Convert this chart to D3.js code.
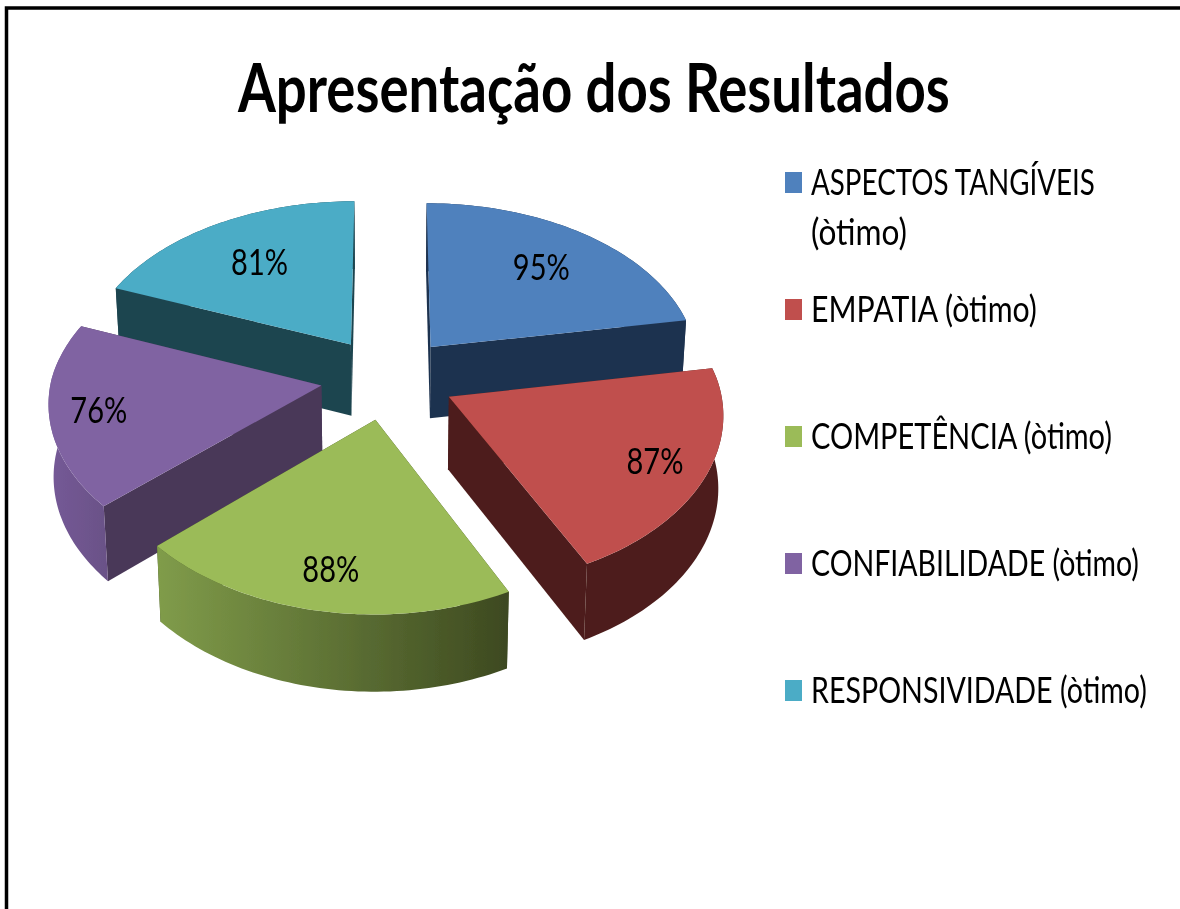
<!DOCTYPE html>
<html>
<head>
<meta charset="utf-8">
<script src="https://cdn.jsdelivr.net/npm/d3@7"></script>
<style>
html,body{margin:0;padding:0;background:#fff;overflow:hidden}
svg{display:block}
text{font-family:Lato,"Open Sans",sans-serif;fill:#000}
</style>
</head>
<body>
<svg id="c" width="1180" height="909"></svg>
<script>
// ---- data ----
const titleText = "Apresentação dos Resultados";
const categories = ["ASPECTOS TANGÍVEIS (òtimo)","EMPATIA (òtimo)","COMPETÊNCIA (òtimo)","CONFIABILIDADE (òtimo)","RESPONSIVIDADE (òtimo)"];
const values = [95,87,88,76,81];
const valueLabels = ["95%","87%","88%","76%","81%"];

// ---- style / layout ----
const topColors = ["#4f81bd","#c0504d","#9bbb59","#8064a2","#4bacc6"];
const cutColors = ["#1f334f","#4d1e1c","#3e4a20","#4a3859","#1f4550"];
const wallFrom  = ["#1f334f","#4d1e1c","#809c4a","#755a97","#1f4550"];
const wallTo    = ["#1f334f","#4d1e1c","#3d4920","#6a5187","#1f4550"];
const labelRadius = [.70,.81,.80,.82,.665];
const drawOrder = [4,0,3,1,2];
const explode = .25, persp = .105, perspXFront = .09, wallHeight = 72, shrink = .985;

const svg = d3.select("#c");
const defs = svg.append("defs");
const soft = defs.append("filter").attr("id","soft").attr("x","-5%").attr("y","-5%").attr("width","110%").attr("height","110%");
soft.append("feGaussianBlur").attr("stdDeviation",.45);

// border
svg.append("path").attr("d","M6.5,909V8H1180").attr("fill","none").attr("stroke","#000").attr("stroke-width",3.5);

// fitted text: height comes from the font size, width from a horizontal scale
function fitted(g,str,x,y,size,width,weight,anchor){
  const t = g.append("text").attr("font-size",size)
    .attr("font-weight",weight||400).attr("text-anchor",anchor||"start").text(str);
  const natural = t.node().getComputedTextLength();
  t.attr("transform",`translate(${x},${y}) scale(${width/natural},1)`);
  return t;
}

// projection
const xs = d3.scaleLinear().domain([0,1]).range([388,658]);
const ys = d3.scaleLinear().domain([0,1]).range([378,543]);
function project(X,Y,down){
  const s = 1/(1-persp*Y);
  const sx = 1/(1-(Y>0?perspXFront:persp)*Y);
  const px = X*sx, py = Y*s;
  if(!down) return [xs(px),ys(py)];
  return [xs(0)+(xs(px)-xs(0))*shrink, ys(py)+wallHeight*Math.sqrt(s)];
}
const pie = d3.pie().sort(null).value(d=>d);
const arcs = pie(values);
const line = d3.line();

const pieG = svg.append("g").attr("filter","url(#soft)");
drawOrder.forEach(i=>{
  const a = arcs[i], mid = (a.startAngle+a.endAngle)/2;
  const ox = explode*Math.sin(mid), oy = -explode*Math.cos(mid);
  const angles = d3.range(0,61).map(k=>a.startAngle+(a.endAngle-a.startAngle)*k/60);
  const rim = angles.map(t=>[ox+Math.sin(t),oy-Math.cos(t)]);
  const top = rim.map(p=>project(p[0],p[1],false));
  const bot = rim.map(p=>project(p[0],p[1],true));
  const apexT = project(ox,oy,false), apexB = project(ox,oy,true);
  const n = rim.length-1;
  const gid = "wall"+i;
  const gr = defs.append("linearGradient").attr("id",gid).attr("x1",0).attr("x2",1).attr("y1",0).attr("y2",0);
  gr.append("stop").attr("offset",0).attr("stop-color",wallFrom[i]);
  gr.append("stop").attr("offset",1).attr("stop-color",wallTo[i]);
  // cut faces
  pieG.append("path").attr("d",line([apexT,top[0],bot[0],apexB])+"Z").attr("fill",cutColors[i]);
  pieG.append("path").attr("d",line([apexT,top[n],bot[n],apexB])+"Z").attr("fill",cutColors[i]);
  // outer wall
  pieG.append("path").attr("d",line(top.concat(bot.slice().reverse()))+"Z").attr("fill",`url(#${gid})`);
  // top face
  pieG.append("path").attr("d",line([apexT].concat(top))+"Z").attr("fill",topColors[i]);
});

const textG = svg.append("g").attr("filter","url(#soft)");

// title
fitted(textG,titleText,238,112,66,712,700);

// value labels
const labelWidth = 57;
arcs.forEach((a,i)=>{
  const mid = (a.startAngle+a.endAngle)/2;
  const X = explode*Math.sin(mid)+labelRadius[i]*Math.sin(mid);
  const Y = -explode*Math.cos(mid)-labelRadius[i]*Math.cos(mid);
  const p = project(X,Y,false);
  fitted(textG,valueLabels[i],p[0],p[1]+13,37,labelWidth,400,"middle");
});

// legend
const legendRowY = d3.scalePoint().domain(categories).range([193,701]);
const legendWidths = [[284,96],[226],[301],[328],[336]];
const legendLines = [["ASPECTOS TANGÍVEIS","(òtimo)"],[categories[1]],[categories[2]],[categories[3]],[categories[4]]];
categories.forEach((c,i)=>{
  const b = legendRowY(c);
  pieG.append("rect").attr("x",785).attr("y",b-21).attr("width",17).attr("height",21).attr("fill",topColors[i]);
  legendLines[i].forEach((t,j)=>{
    fitted(textG,t,811,b+2+j*50,37,legendWidths[i][j]);
  });
});
</script>
</body>
</html>
